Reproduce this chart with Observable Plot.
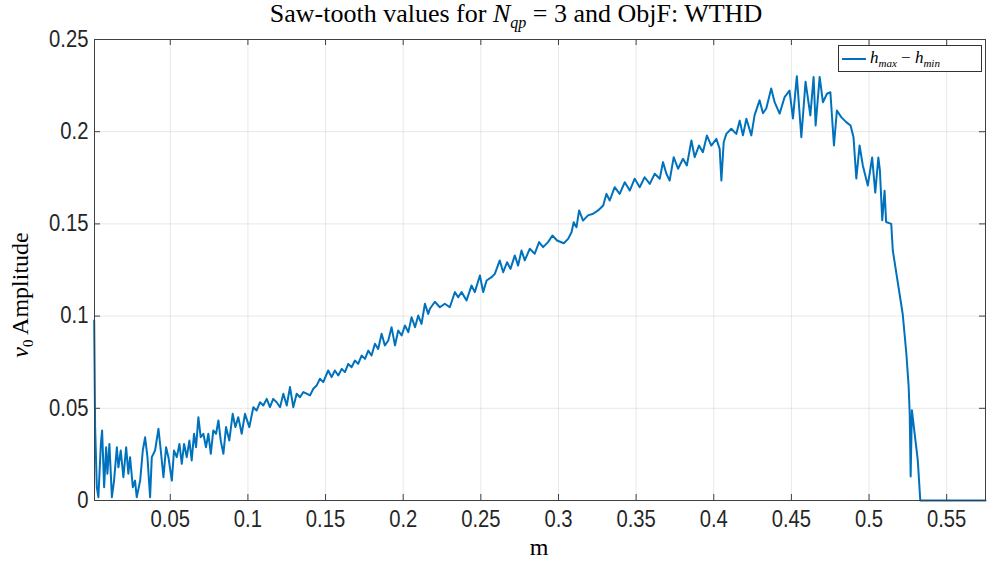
<!DOCTYPE html>
<html><head><meta charset="utf-8">
<script src="https://cdn.jsdelivr.net/npm/d3@7"></script>
<script src="https://cdn.jsdelivr.net/npm/@observablehq/plot@0.6"></script>
<style>
body{margin:0;background:#fff;width:987px;height:570px;overflow:hidden;position:relative;font-family:"Liberation Serif","Times New Roman",serif;color:#000}
#title{position:absolute;z-index:2;top:-1px;left:516px;transform:translateX(-50%);white-space:nowrap;font-size:26px;}
#title sub{font-size:16px;}
#chart{position:absolute;top:0;left:0;z-index:1}
#ylab{position:absolute;z-index:2;left:22px;top:295px;transform:translate(-50%,-50%) rotate(-90deg);font-size:24px;white-space:nowrap}
#ylab sub{font-size:15px}
#xlab{position:absolute;z-index:2;left:539px;top:534px;transform:translateX(-50%);font-size:24px}
#legend{position:absolute;z-index:2;left:838px;top:45px;width:144px;height:27px;border:1px solid #333;background:#fff;box-sizing:border-box;display:flex;align-items:center;font-size:17px;white-space:nowrap}
#legend sub{font-size:11px}
</style></head>
<body>
<div id="title">Saw-tooth values for <i>N</i><sub><i>qp</i></sub> = 3 and ObjF: WTHD</div>
<div id="chart"></div>
<div id="ylab"><i>v</i><sub>0</sub> Amplitude</div>
<div id="xlab">m</div>
<div id="legend"><svg width="26" height="6" style="margin-left:3px;margin-right:2px"><line x1="0" y1="3" x2="24" y2="3" stroke="#0072BD" stroke-width="2"/></svg><span><i>h</i><sub><i>max</i></sub> − <i>h</i><sub><i>min</i></sub></span></div>
<script>
const xTicks = [0.05,0.1,0.15,0.2,0.25,0.3,0.35,0.4,0.45,0.5,0.55];
const yTicks = [0,0.05,0.1,0.15,0.2,0.25];
const xDomain = [0.0012, 0.575];
const yDomain = [0, 0.25];

const mA = [.001,.0016,.0027,.0037,.0053,.0061,.0074,.0087,.0095,.0108,.0124,.0138,.0156,.0166,.0181,.0198,.0216,.023,.0241,.0259,.0273,.0284,.0306,.0323,.0338,.0353,.037,.0381,.0402,.0424,.0439,.0456,.0473,.0488,.051,.0524,.0542,.0559,.0574,.0589,.0606,.0623,.0638,.0653,.0666,.0681,.0696,.0713,.073,.0745,.0761,.0777,.0795,.081,.0825,.0842,.0859,.088,.0902,.0919,.0938,.096,.0981,.1009];
const vA = [.0976,.0398,.0072,.0018,.0307,.038,.0072,.0289,.0145,.0307,.0018,.0108,.0289,.018,.0271,.0126,.0289,.0145,.0235,.0072,.0108,.0018,.0108,.0271,.0343,.0235,.0018,.0235,.0271,.0389,.0271,.0126,.0289,.0235,.0108,.0271,.0235,.0307,.0199,.0307,.0235,.0325,.0217,.0362,.0289,.0452,.0343,.0362,.0289,.0362,.0253,.038,.0362,.0434,.0325,.0253,.0398,.0325,.047,.0398,.0452,.0362,.047,.0398];
const mB = [.1035,.1056,.1078,.1099,.1121,.1142,.1163,.1185,.1207,.1228,.125,.1271,.1292,.1314,.1335,.1357,.1378,.14,.1421,.1443,.1464,.1485,.1517,.1539,.156,.1582,.1604,.1625,.1646,.1668,.1689,.171,.1732,.1754,.1775,.1796,.1818,.1839,.1861,.1882,.1904,.1925,.1947,.1968,.199,.2011,.2033,.2054,.2076,.2097];
const vB = [.0506,.0488,.0533,.0515,.0551,.0506,.0551,.0533,.0506,.0579,.0515,.0615,.0506,.0579,.056,.0588,.0579,.057,.0606,.0624,.066,.0642,.0705,.0669,.0705,.0678,.0714,.0696,.0741,.0723,.0759,.0741,.0786,.0768,.0813,.0786,.085,.0822,.0904,.0841,.0868,.094,.0841,.0922,.0895,.0949,.0913,.0994,.094,.1003];
const mC = [.2118,.214,.2161,.2172,.2204,.2236,.2268,.23,.2333,.2354,.2376,.2408,.244,.2461,.2494,.2515,.2537,.2569,.259,.2622,.2644,.2669,.2691,.2719,.274,.2762,.2783,.2815,.2847,.2875,.2901,.2933,.2961,.2991,.3034,.3062,.3084,.3098,.3116,.3133,.3158,.319,.3223,.3255,.3288];
const vC = [.0958,.1067,.1012,.104,.1078,.1048,.1067,.1048,.113,.1102,.113,.1085,.1166,.113,.122,.113,.1193,.1211,.1229,.1302,.1238,.1292,.1256,.1329,.1274,.1356,.1302,.1365,.1338,.1401,.1374,.1401,.1437,.141,.1395,.1419,.1455,.1509,.1482,.1573,.1518,.1546,.1555,.1573,.16];
const mD = [.3309,.333,.3362,.3394,.3427,.3459,.3491,.3523,.3555,.3588,.362,.3652,.3673,.3695,.3716,.3742,.377,.3802,.3827,.3856,.3877,.3905,.393,.3956,.3984,.4017,.4038,.4049,.4064,.4081,.4113,.4145];
const vD = [.1663,.1627,.1699,.1663,.1726,.1681,.1745,.1699,.1753,.1717,.1772,.1745,.1835,.1772,.1735,.1862,.1799,.1853,.1817,.1952,.1862,.1925,.1889,.1979,.1925,.1961,.1907,.1735,.1943,.1988,.2016,.1988];
const mE = [.4167,.4188,.421,.4242,.4263,.4295,.4317,.4338,.437,.4392,.4424,.4456,.4488,.451,.4535,.4564,.4591,.4622,.4643,.4656,.4682,.4703,.4729,.4751,.4774,.4793,.4821,.4853,.4881,.49,.4918,.4939,.496,.4992];
const vE = [.206,.198,.207,.198,.209,.217,.21,.2126,.2234,.216,.2098,.2187,.2223,.2072,.2301,.197,.2271,.2088,.2297,.2034,.2297,.216,.2206,.2214,.1925,.2115,.2079,.2052,.2034,.197,.1746,.1925,.1817,.1708];
const mF = [.502,.504,.506,.507,.5085,.51,.511,.5143,.5153,.5217,.524,.5255,.5262,.5268,.5276,.5314,.533,.575];
const vF = [.186,.167,.186,.179,.152,.168,.151,.15,.1356,.101,.08,.062,.047,.013,.049,.0217,0,0];

const m = [...mA,...mB,...mC,...mD,...mE,...mF];
const v = [...vA,...vB,...vC,...vD,...vE,...vF];
const data = m.map((d,i)=>({m:d, v:v[i]}));

const W = 987, H = 570, ML = 94, MR = 2, MT = 39, MB = 70;
const pw = W - ML - MR, ph = H - MT - MB;
const axisColor = "#404040";

const chart = Plot.plot({
  width: W, height: H,
  marginLeft: ML, marginRight: MR, marginTop: MT, marginBottom: MB,
  style: {fontFamily: "'Liberation Sans',Arial,sans-serif", fontSize: "24px", color: "#262626", background: "transparent"},
  x: {domain: xDomain, ticks: xTicks},
  y: {domain: yDomain, ticks: yTicks},
  marks: [
    Plot.gridX(xTicks, {stroke: "#000", strokeOpacity: 0.09}),
    Plot.gridY(yTicks, {stroke: "#000", strokeOpacity: 0.09}),
    Plot.line(data, {x: "m", y: "v", stroke: "#0072BD", strokeWidth: 2}),
    Plot.frame({stroke: axisColor, strokeWidth: 1}),
    Plot.tickX(xTicks, {x: d => d, stroke: axisColor, insetTop: ph - 6}),
    Plot.tickX(xTicks, {x: d => d, stroke: axisColor, insetBottom: ph - 6}),
    Plot.tickY(yTicks, {y: d => d, stroke: axisColor, insetRight: pw - 6}),
    Plot.tickY(yTicks, {y: d => d, stroke: axisColor, insetLeft: pw - 6}),
    Plot.axisX(xTicks, {tickSize: 0, tickPadding: 10, label: null, fontSize: 23, tickFormat: d => String(d)}),
    Plot.axisY(yTicks, {tickSize: 0, tickPadding: 6, label: null, fontSize: 23, tickFormat: d => String(d)})
  ]
});
chart.querySelectorAll('[aria-label="x-axis tick label"] text, [aria-label="y-axis tick label"] text').forEach(t => {
  const tr = t.getAttribute("transform") || "";
  t.setAttribute("transform", tr + " scale(0.88,1)");
});
document.getElementById("chart").appendChild(chart);
</script>
</body></html>
